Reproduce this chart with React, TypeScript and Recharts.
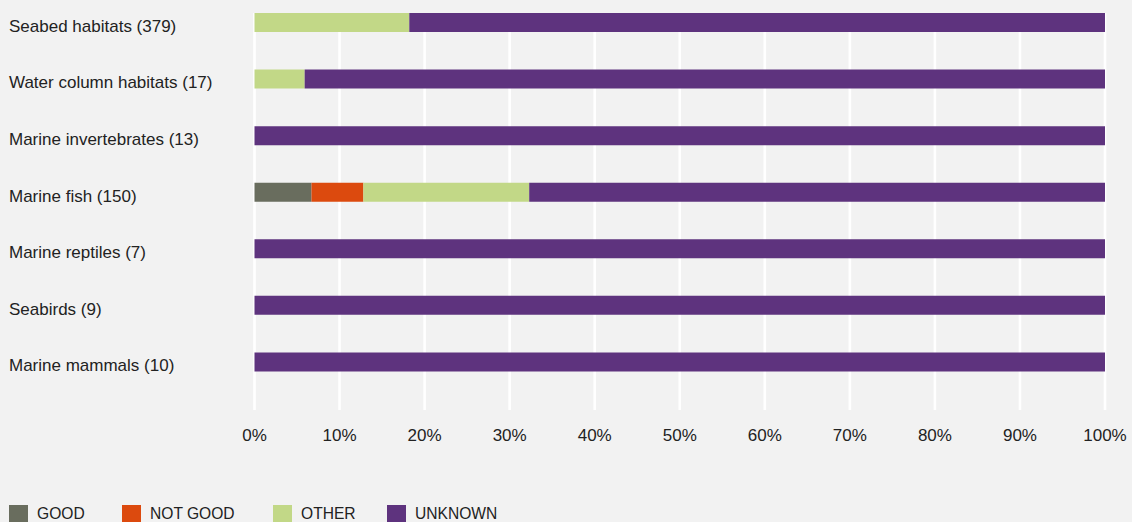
import React from 'react'
import { BarChart, Bar, XAxis, YAxis, CartesianGrid } from 'recharts'

const categories = [
  'Seabed habitats (379)',
  'Water column habitats (17)',
  'Marine invertebrates (13)',
  'Marine fish (150)',
  'Marine reptiles (7)',
  'Seabirds (9)',
  'Marine mammals (10)',
]
const good = [0, 0, 0, 6.7, 0, 0, 0]
const notGood = [0, 0, 0, 6.1, 0, 0, 0]
const other = [18.2, 5.9, 0, 19.5, 0, 0, 0]
const unknown = [81.8, 94.1, 100, 67.7, 100, 100, 100]
const xTicks = [0, 10, 20, 30, 40, 50, 60, 70, 80, 90, 100]

const series = [
  { key: 'good', label: 'GOOD', color: '#696d5e' },
  { key: 'notGood', label: 'NOT GOOD', color: '#dc4a0e' },
  { key: 'other', label: 'OTHER', color: '#c2d887' },
  { key: 'unknown', label: 'UNKNOWN', color: '#5e337e' },
]

const data = categories.map((name, i) => ({
  name,
  good: good[i],
  notGood: notGood[i],
  other: other[i],
  unknown: unknown[i],
}))

const font = '"Liberation Sans", Arial, Helvetica, sans-serif'

const LeftTick = (props: any) => {
  const { y, payload } = props
  return (
    <text x={9} y={y} dy={9.5} textAnchor="start" fontSize={17} fill="#222" fontFamily={font}>
      {payload.value}
    </text>
  )
}

export default function App() {
  return (
    <div style={{ position: 'absolute', left: 0, top: 0, width: 1132, height: 522, background: '#f2f2f2', overflow: 'hidden', fontFamily: font }}>
      <BarChart
        width={1132}
        height={470}
        data={data}
        layout="vertical"
        margin={{ top: 13, right: 27, left: 0, bottom: 0 }}
      >
        <CartesianGrid horizontal={false} stroke="#ffffff" strokeWidth={2.6} />
        <XAxis
          type="number"
          domain={[0, 100]}
          ticks={xTicks}
          tickFormatter={v => `${v}%`}
          axisLine={false}
          tickLine={false}
          tickMargin={13}
          height={60}
          interval={0}
          tick={{ fill: '#222', fontSize: 17, fontFamily: font }}
        />
        <YAxis
          type="category"
          dataKey="name"
          width={254.5}
          axisLine={false}
          tickLine={false}
          padding={{ top: -19, bottom: 20 }}
          interval={0}
          tick={<LeftTick />}
        />
        {series.map(s => (
          <Bar key={s.key} dataKey={s.key} stackId="a" fill={s.color} barSize={19} isAnimationActive={false} />
        ))}
      </BarChart>
      <div style={{ position: 'absolute', left: 9, top: 505, display: 'flex', alignItems: 'flex-start' }}>
        {series.map((s, i) => (
          <div key={s.key} style={{ display: 'flex', alignItems: 'flex-start', width: [113, 151, 114, 120][i] }}>
            <span style={{ display: 'inline-block', width: 19, height: 19, background: s.color, marginRight: 9 }} />
            <span style={{ fontSize: 15.6, color: '#222', lineHeight: '17px', marginTop: 0 }}>{s.label}</span>
          </div>
        ))}
      </div>
    </div>
  )
}
